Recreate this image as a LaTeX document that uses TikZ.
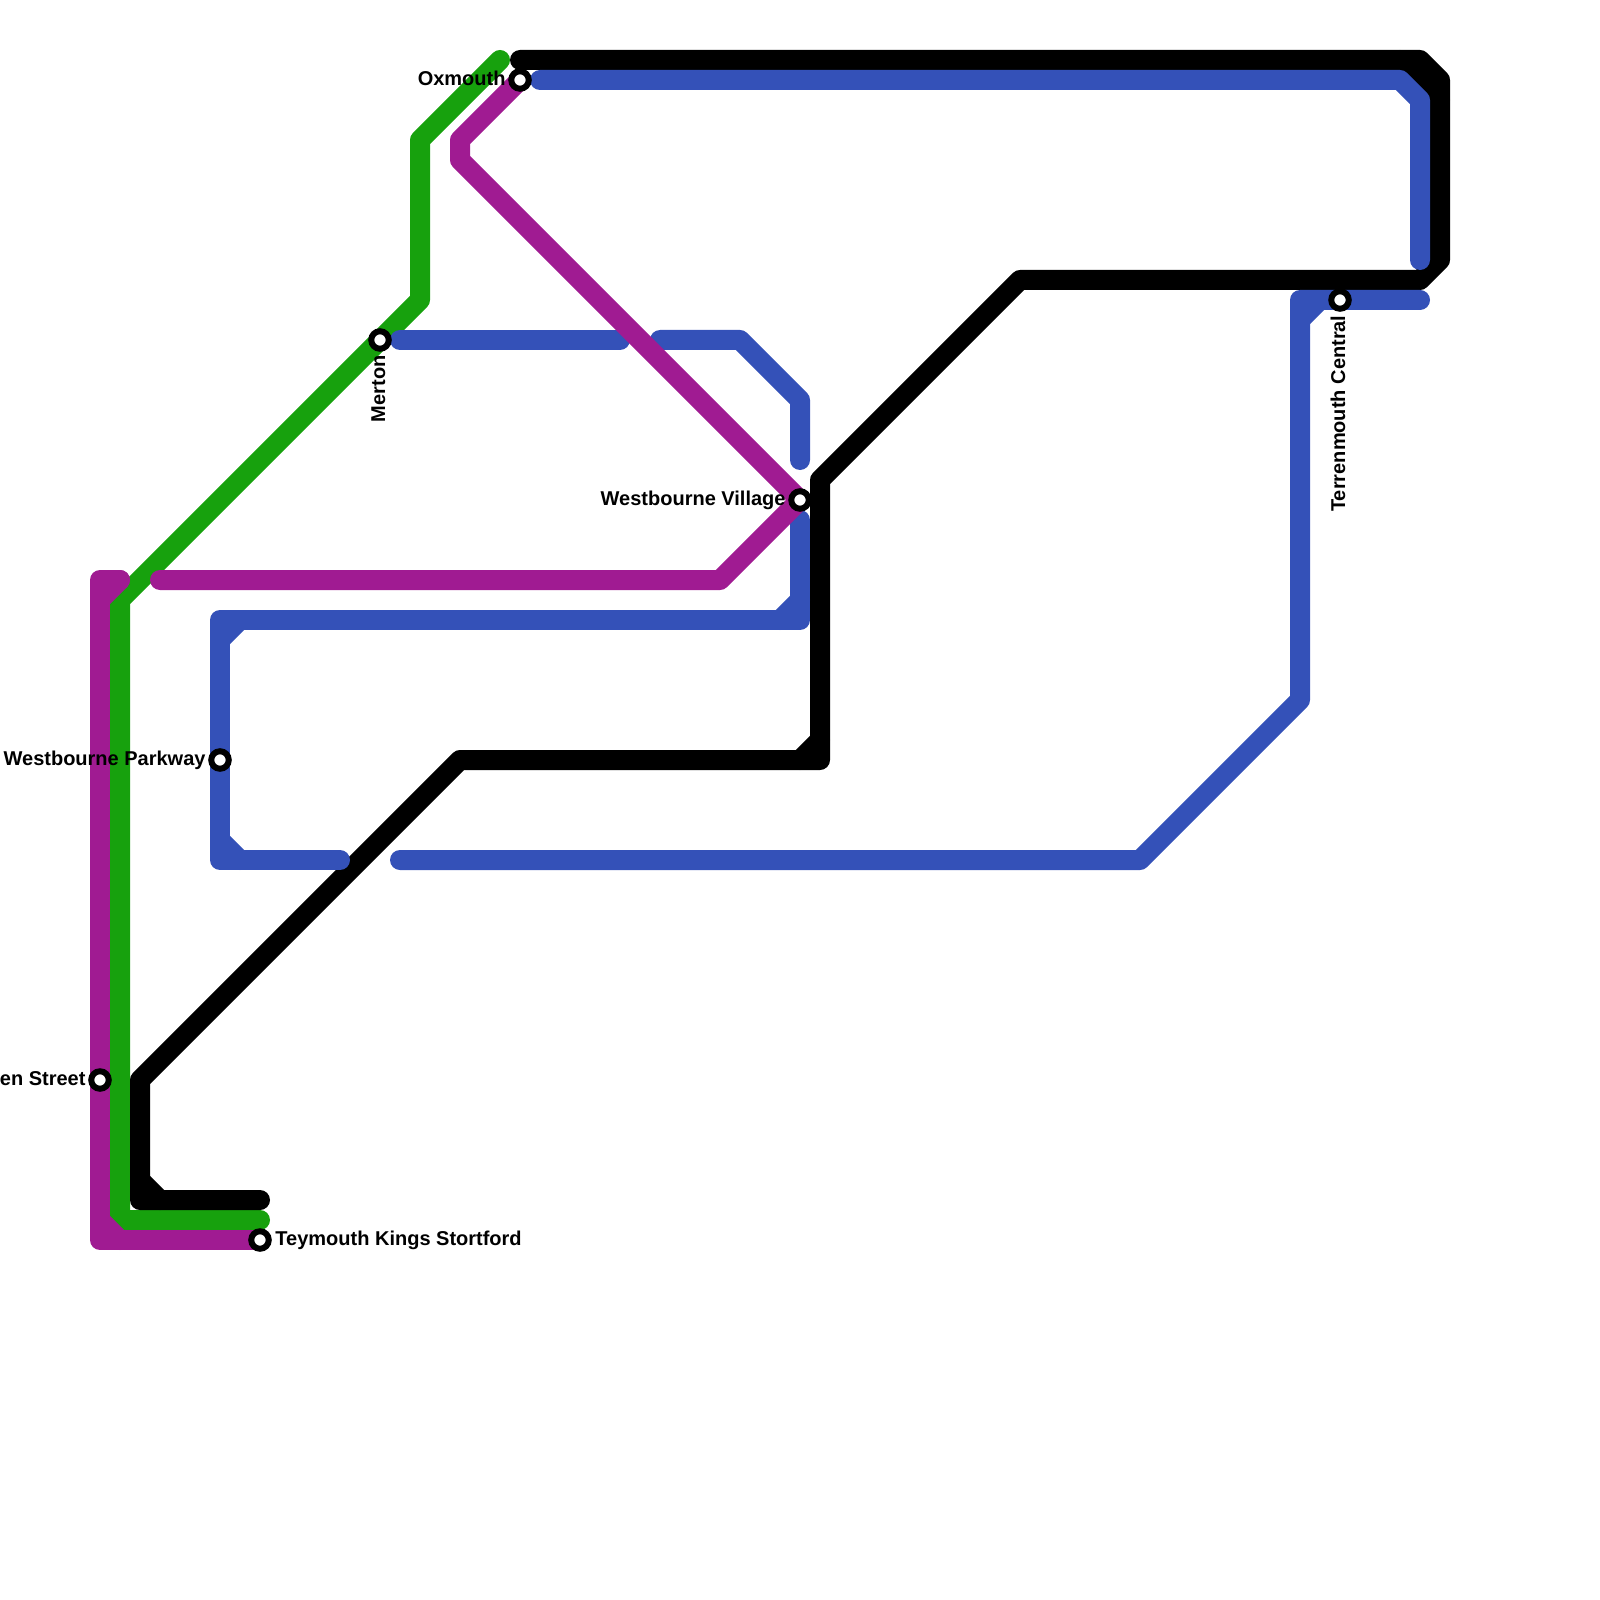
\documentclass[tikz,border=0pt]{standalone}
\usepackage{fontspec}
\setmainfont{Liberation Sans}
\usetikzlibrary{positioning}
\definecolor{linegreen}{HTML}{17A10D}
\definecolor{linepurple}{HTML}{A01B92}
\definecolor{lineblue}{HTML}{3451B8}
\tikzset{
  metroline/.style={line width=2mm, line cap=round, line join=round},
  stationring/.style={circle, draw=black, fill=white, line width=0.6mm, minimum size=1.75mm, inner sep=0pt},
  stationtext/.style={font=\fontsize{5.69}{6.8}\selectfont\bfseries, inner sep=0pt, text height=4.1pt, text depth=1.2pt}
}
\begin{document}
\begin{tikzpicture}[x=2mm,y=-2mm]
  \useasboundingbox (0,0) rectangle (80,80);
  % green
  \draw[metroline, linegreen] (25,3) -- (21,7) -- (21,15) -- (6,30) -- (6,61) -- (13,61);
  % black
  \draw[metroline, black] (26,3) -- (71,3) -- (72,4) -- (72,13) -- (71,14) -- (51,14) -- (41,24) -- (41,38) -- (23,38) -- (7,54) -- (7,60) -- (13,60);
  \draw[metroline, black] (70,3) -- (72,5) (40,38) -- (41,37) (7,59) -- (8,60);
  % blue
  \draw[metroline, lineblue] (27,4) -- (70,4) -- (71,5) -- (71,13);
  \draw[metroline, lineblue] (20,17) -- (31,17);
  \draw[metroline, lineblue] (33,17) -- (37,17) -- (40,20) -- (40,23);
  \draw[metroline, lineblue] (40,26) -- (40,31) -- (11,31) -- (11,43) -- (17,43);
  \draw[metroline, lineblue] (39,31) -- (40,30) (11,32) -- (12,31) (11,42) -- (12,43);
  \draw[metroline, lineblue] (20,43) -- (57,43) -- (65,35) -- (65,15) -- (71,15);
  \draw[metroline, lineblue] (65,16) -- (66,15);
  % purple
  \draw[metroline, linepurple] (6,29) -- (5,29) -- (5,62) -- (13,62);
  \draw[metroline, linepurple] (5,30) -- (6,29) (5,61) -- (6,62);
  \draw[metroline, linepurple] (8,29) -- (36,29) -- (40,25) -- (23,8) -- (23,7) -- (26,4);
  % stations
  \path
  (26,4) node[stationring] (oxmouth) {}
  (19,17) node[stationring] (merton) {}
  (40,25) node[stationring] (village) {}
  (11,38) node[stationring] (parkway) {}
  (5,54) node[stationring] (street) {}
  (13,62) node[stationring] (stortford) {}
  (67,15) node[stationring] (central) {}
  ;
  \node[stationtext, left=0.2mm of oxmouth] (oxmouthtext) {Oxmouth};
  \node[stationtext, left=0.2mm of village] (villagetext) {Westbourne Village};
  \node[stationtext, left=0.2mm of parkway] (parkwaytext) {Westbourne Parkway};
  \node[stationtext, left=0.2mm of street] (streettext) {en Street};
  \node[stationtext, right=0.3mm of stortford] (stortfordtext) {Teymouth Kings Stortford};
  \node[stationtext, rotate=90, anchor=east] (mertontext) at ([yshift=-0.3mm]merton.south) {Merton};
  \node[stationtext, rotate=90, anchor=east] (centraltext) at ([yshift=-0.3mm]central.south) {Terrenmouth Central};
\end{tikzpicture}
\end{document}
